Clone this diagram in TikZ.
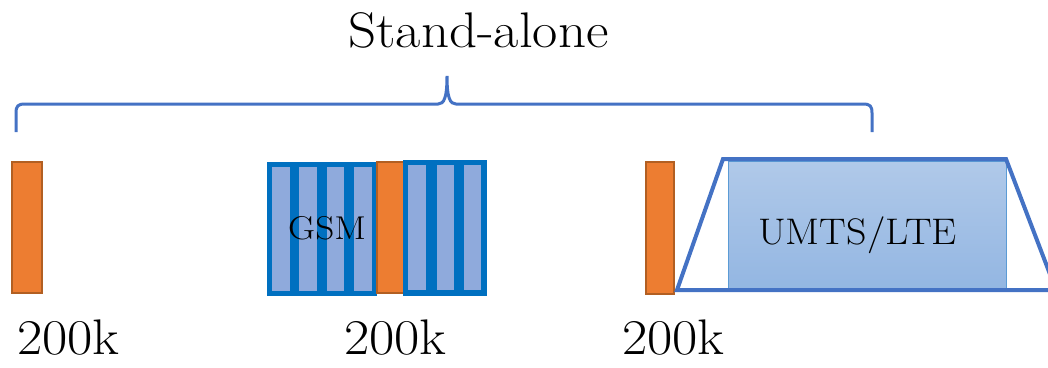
\documentclass[tikz,border=0pt]{standalone}
\definecolor{orfill}{HTML}{ED7D31}
\definecolor{ordraw}{HTML}{B25F22}
\definecolor{gsmblue}{HTML}{0070C0}
\definecolor{stripe}{HTML}{8FAADC}
\definecolor{lineblue}{HTML}{4472C4}
\definecolor{umtstop}{HTML}{B0C9E9}
\definecolor{umtsbot}{HTML}{93B6E2}
\definecolor{umtsedge}{HTML}{5B9BD5}
\tikzset{
  orbox/.style={fill=orfill,draw=ordraw,line width=1.5pt},
  gsmbox/.style={fill=gsmblue},
  stripebox/.style={fill=stripe},
  bracepath/.style={draw=lineblue,line width=3pt},
  bigtext/.style={font=\fontsize{50}{60}\selectfont,inner sep=0pt,anchor=base west,xscale=1.1},
}
\begin{document}
\begin{tikzpicture}[x=1pt,y=-1pt]
\useasboundingbox (0,0) rectangle (1048,367);
% title and brace
\node[bigtext] (title) at (348,47) {Stand-alone};
\draw[bracepath] (16,132) -- (16,113) .. controls (16,106) and (18,104) .. (25,104)
  -- (438,104) .. controls (444,104) and (447,98) .. (447,76)
  .. controls (447,98) and (450,104) .. (456,104)
  -- (863,104) .. controls (870,104) and (872,106) .. (872,113) -- (872,132);
% first orange
\draw[orbox] (12,162) rectangle (42,293);
% GSM box 1
\fill[gsmbox] (267,162) rectangle (377,296);
\foreach \a/\b in {272/290,299/317,327/344,354/372}
  \fill[stripebox] (\a,167) rectangle (\b,291);
% orange 2
\draw[orbox] (377,162) rectangle (405,293);
% GSM box 2
\fill[gsmbox] (403,160) rectangle (487,296);
\foreach \a/\b in {408/426,437/454,464/481}
  \fill[stripebox] (\a,165) rectangle (\b,290);
\node[font=\fontsize{33}{40}\selectfont,inner sep=0pt,anchor=base west,xscale=1.13] (gsm) at (288,239) {GSM};
% orange 3
\draw[orbox] (646,162) rectangle (674,294);
% UMTS/LTE
\shade[top color=umtstop,bottom color=umtsbot] (728,161) rectangle (1006,290);
\draw[umtsedge,line width=0.8pt] (728,161) rectangle (1006,290);
\draw[lineblue,line width=4pt,line join=miter] (1050,290) -- (677,290) -- (723,159) -- (1006,159) -- (1056,290);
\node[font=\fontsize{37}{44}\selectfont,inner sep=0pt,anchor=base west,xscale=1.08] (umts) at (758,244) {UMTS/LTE};
% labels
\node[bigtext] (l1) at (17,354) {200k};
\node[bigtext] (l2) at (344,354) {200k};
\node[bigtext] (l3) at (622,354) {200k};
\end{tikzpicture}
\end{document}
